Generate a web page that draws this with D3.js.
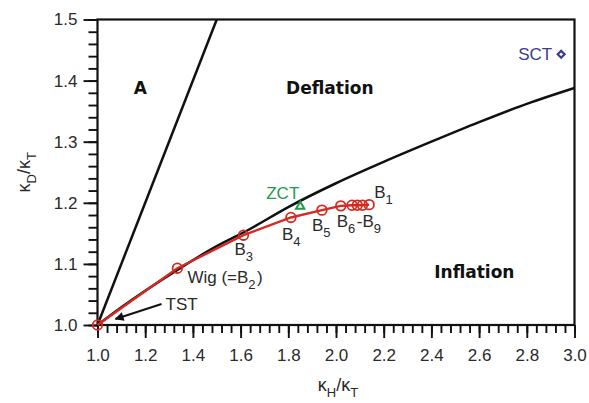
<!DOCTYPE html>
<html>
<head>
<meta charset="utf-8">
<script src="https://cdn.jsdelivr.net/npm/d3@7"></script>
<style>
  html, body { margin: 0; padding: 0; background: #fff; }
  svg { display: block; }
  .tick text { font-family: "Liberation Sans", Arial, sans-serif; font-size: 17px; fill: #2a2a2a; }
</style>
</head>
<body>
<svg id="chart" width="589" height="403"></svg>
<script>
// Axis ranges and ticks
const xDomain = [1.0, 3.0];
const yDomain = [1.0, 1.5];
const xMajorTicks = [1.0, 1.2, 1.4, 1.6, 1.8, 2.0, 2.2, 2.4, 2.6, 2.8, 3.0];
const yMajorTicks = [1.0, 1.1, 1.2, 1.3, 1.4, 1.5];
const xMinorStep = 0.04;
const yMinorStep = 0.02;

// Boundary between region A and deflation: kD = kH
const boundaryAX = [1.0, 1.5];
const boundaryAY = [1.0, 1.5];

// Boundary between deflation and inflation
const boundaryDX = [1.0, 1.1, 1.2, 1.35, 1.5, 1.62, 1.8, 2.0, 2.2, 2.4, 2.6, 2.8, 3.0];
const boundaryDY = [1.0, 1.029, 1.056, 1.094, 1.129, 1.153, 1.193, 1.232, 1.267, 1.300, 1.332, 1.362, 1.388];

// Computed cases (red path): TST, Wig (=B2), B3, B4, B5, B6..B9, B1
const caseNames = ["TST", "B2", "B3", "B4", "B5", "B6", "B7", "B8", "B9", "B1"];
const caseX = [1.0, 1.335, 1.612, 1.811, 1.941, 2.020, 2.067, 2.089, 2.111, 2.139];
const caseY = [1.0, 1.093, 1.147, 1.176, 1.188, 1.195, 1.196, 1.196, 1.196, 1.197];

// Special points
const zctPoint = [1.850, 1.194];
const sctPoint = [2.944, 1.443];

const width = 589, height = 403;
const margin = { left: 97.5, right: 14.5, top: 19.5, bottom: 78 };
const svg = d3.select("#chart");

const x = d3.scaleLinear().domain(xDomain).range([margin.left, width - margin.right]);
const y = d3.scaleLinear().domain(yDomain).range([height - margin.bottom, margin.top]);

const RED = "#d42a22", GREEN = "#1e9a4c", NAVY = "#3a3c8e", TXT = "#2a2a2a";
const labelFont = "'Liberation Sans', Arial, sans-serif";
const boldFont = "'DejaVu Sans', Verdana, sans-serif";

const defs = svg.append("defs");
defs.append("clipPath").attr("id", "plot-clip")
  .append("rect")
  .attr("x", x(xDomain[0])).attr("y", y(yDomain[1]))
  .attr("width", x(xDomain[1]) - x(xDomain[0]))
  .attr("height", y(yDomain[0]) - y(yDomain[1]));

// Minor and major ticks
const xMinor = d3.range(xDomain[0], xDomain[1] + 1e-9, xMinorStep).map(v => +v.toFixed(2));
const yMinor = d3.range(yDomain[0], yDomain[1] + 1e-9, yMinorStep).map(v => +v.toFixed(2));

const gxMinor = svg.append("g").attr("transform", `translate(0,${y(yDomain[0])})`)
  .call(d3.axisBottom(x).tickValues(xMinor).tickSize(8).tickFormat(""));
const gyMinor = svg.append("g").attr("transform", `translate(${x(xDomain[0])},0)`)
  .call(d3.axisLeft(y).tickValues(yMinor).tickSize(9).tickFormat(""));

const gx = svg.append("g").attr("transform", `translate(0,${y(yDomain[0])})`)
  .call(d3.axisBottom(x).tickValues(xMajorTicks).tickSize(13).tickPadding(11).tickFormat(d3.format(".1f")));
const gy = svg.append("g").attr("transform", `translate(${x(xDomain[0])},0)`)
  .call(d3.axisLeft(y).tickValues(yMajorTicks).tickSize(14).tickPadding(6).tickFormat(d3.format(".1f")));

[gxMinor, gyMinor, gx, gy].forEach(g => {
  g.select(".domain").remove();
  g.selectAll(".tick line").attr("stroke", "#111").attr("stroke-width", 1.9);
});
gx.selectAll(".tick text").attr("dy", "0.71em");

// Frame
svg.append("rect")
  .attr("x", x(xDomain[0])).attr("y", y(yDomain[1]))
  .attr("width", x(xDomain[1]) - x(xDomain[0]))
  .attr("height", y(yDomain[0]) - y(yDomain[1]))
  .attr("fill", "none").attr("stroke", "#111").attr("stroke-width", 2.2);

const plot = svg.append("g").attr("clip-path", "url(#plot-clip)");

const line = d3.line().x(d => x(d[0])).y(d => y(d[1]));

// Region boundaries
plot.append("path")
  .datum(d3.zip(boundaryAX, boundaryAY))
  .attr("d", line)
  .attr("fill", "none").attr("stroke", "#111").attr("stroke-width", 2.5);

plot.append("path")
  .datum(d3.zip(boundaryDX, boundaryDY))
  .attr("d", line.curve(d3.curveMonotoneX))
  .attr("fill", "none").attr("stroke", "#111").attr("stroke-width", 2.5);

// Red path through the computed cases
const cases = d3.zip(caseX, caseY);
svg.append("path")
  .datum(cases)
  .attr("d", d3.line().x(d => x(d[0])).y(d => y(d[1])))
  .attr("fill", "none").attr("stroke", RED).attr("stroke-width", 2.4);

svg.append("g").selectAll("circle")
  .data(cases)
  .join("circle")
  .attr("cx", d => x(d[0])).attr("cy", d => y(d[1]))
  .attr("r", 4.8)
  .attr("fill", "none").attr("stroke", RED).attr("stroke-width", 1.8);

// ZCT triangle
svg.append("path")
  .attr("d", d3.symbol().type(d3.symbolTriangle).size(30)())
  .attr("transform", `translate(${x(zctPoint[0])},${y(zctPoint[1])})`)
  .attr("fill", "none").attr("stroke", GREEN).attr("stroke-width", 2);

// SCT diamond
svg.append("path")
  .attr("d", d3.symbol().type(d3.symbolDiamond2).size(30)())
  .attr("transform", `translate(${x(sctPoint[0])},${y(sctPoint[1])})`)
  .attr("fill", "none").attr("stroke", NAVY).attr("stroke-width", 2.2);

// Region names
function regionLabel(text, px, py) {
  svg.append("text")
    .attr("x", px).attr("y", py)
    .attr("text-anchor", "middle")
    .attr("font-family", boldFont).attr("font-weight", "bold")
    .attr("font-size", 17).attr("fill", "#111")
    .text(text);
}
regionLabel("A", x(1.18), y(1.378));
regionLabel("Deflation", x(1.974), y(1.378));
regionLabel("Inflation", x(2.58), y(1.077));

// Point labels with optional subscript
function pointLabel(parts, px, py, color) {
  const t = svg.append("text")
    .attr("x", px).attr("y", py)
    .attr("font-family", labelFont).attr("font-size", 17)
    .attr("fill", color || TXT);
  parts.forEach(p => {
    if (p.sub) {
      t.append("tspan").attr("font-size", 13).attr("dy", 6).text(p.sub);
      t.append("tspan").attr("dy", -6).text("\u200A");
    } else {
      t.append("tspan").text(p.t);
    }
  });
  return t;
}
const px = i => x(caseX[i]), py = i => y(caseY[i]);
pointLabel([{ t: "TST" }], px(0) + 68, py(0) - 15);
pointLabel([{ t: "Wig (=B" }, { sub: "2" }, { t: ")" }], px(1) + 10, py(1) + 15);
pointLabel([{ t: "B" }, { sub: "3" }], px(2) - 9, py(2) + 20);
pointLabel([{ t: "B" }, { sub: "4" }], px(3) - 9, py(3) + 23);
pointLabel([{ t: "B" }, { sub: "5" }], px(4) - 10, py(4) + 21);
pointLabel([{ t: "B" }, { sub: "6" }, { t: "-B" }, { sub: "9" }], px(5) - 4, py(5) + 21);
pointLabel([{ t: "B" }, { sub: "1" }], px(9) + 5, py(9) - 7);
pointLabel([{ t: "ZCT" }], x(zctPoint[0]) - 34, y(zctPoint[1]) - 7, GREEN);
pointLabel([{ t: "SCT" }], x(sctPoint[0]) - 9, y(sctPoint[1]) + 6, NAVY).attr("text-anchor", "end");

// Arrow pointing at TST
defs.append("marker")
  .attr("id", "arrowhead").attr("viewBox", "0 0 10 10")
  .attr("refX", 9).attr("refY", 5)
  .attr("markerWidth", 13).attr("markerHeight", 9)
  .attr("markerUnits", "userSpaceOnUse")
  .attr("orient", "auto")
  .append("path").attr("d", "M0,0 L10,5 L0,10 Z").attr("fill", "#111");
svg.append("line")
  .attr("x1", px(0) + 64).attr("y1", py(0) - 21)
  .attr("x2", px(0) + 18).attr("y2", py(0) - 6)
  .attr("stroke", "#111").attr("stroke-width", 2)
  .attr("marker-end", "url(#arrowhead)");

// Axis titles
const xTitle = svg.append("text")
  .attr("x", (x(xDomain[0]) + x(xDomain[1])) / 2 + 2).attr("y", 391)
  .attr("text-anchor", "middle")
  .attr("font-family", labelFont).attr("font-size", 18).attr("fill", TXT);
xTitle.append("tspan").text("\u03BA");
xTitle.append("tspan").attr("font-size", 13).attr("dy", 6).text("H");
xTitle.append("tspan").attr("dy", -6).text("/\u03BA");
xTitle.append("tspan").attr("font-size", 13).attr("dy", 6).text("T");

const yTitle = svg.append("text")
  .attr("transform", `translate(30,${(y(yDomain[0]) + y(yDomain[1])) / 2}) rotate(-90)`)
  .attr("text-anchor", "middle")
  .attr("font-family", labelFont).attr("font-size", 18).attr("fill", TXT);
yTitle.append("tspan").text("\u03BA");
yTitle.append("tspan").attr("font-size", 13).attr("dy", 6).text("D");
yTitle.append("tspan").attr("dy", -6).text("/\u03BA");
yTitle.append("tspan").attr("font-size", 13).attr("dy", 6).text("T");
</script>
</body>
</html>
